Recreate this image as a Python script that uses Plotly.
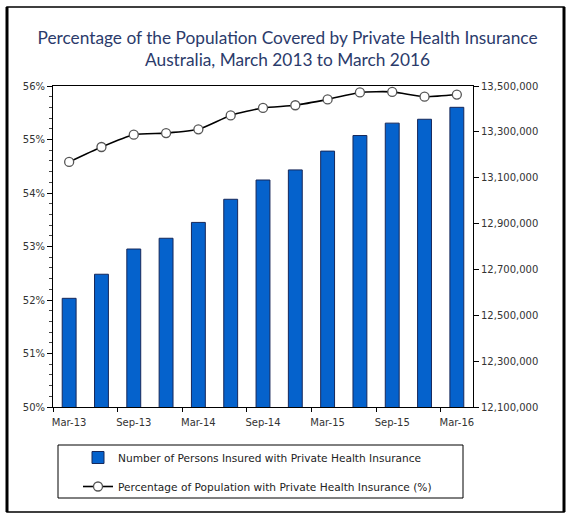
import plotly.graph_objects as go

# quarterly data, Mar-13 .. Mar-16
quarters = ["Mar-13", "Jun-13", "Sep-13", "Dec-13", "Mar-14", "Jun-14", "Sep-14",
            "Dec-14", "Mar-15", "Jun-15", "Sep-15", "Dec-15", "Mar-16"]
persons_insured = [12574000, 12679000, 12789000, 12836000, 12905000, 13006000, 13090000,
                   13134000, 13216000, 13284000, 13338000, 13355000, 13407000]
pct_population = [54.58, 54.86, 55.09, 55.12, 55.19, 55.45, 55.59,
                  55.64, 55.75, 55.88, 55.89, 55.80, 55.84]

title_txt = ("Percentage of the Population Covered by Private Health Insurance<br>"
             "Australia, March 2013 to March 2016")
bar_name = "Number of Persons Insured with Private Health Insurance"
line_name = "Percentage of Population with Private Health Insurance (%)"

W, H = 575, 522
L, R, T, B = 53, 473, 86, 407   # plot area in px


def px_x(v):
    return (v - L) / (R - L)


def px_y(v):
    return (B - v) / (B - T)


fig = go.Figure()
fig.add_trace(go.Bar(x=quarters, y=persons_insured, name=bar_name, yaxis="y",
                     legendgroup="bars",
                     marker=dict(color="#0562CC", line=dict(color="#17285A", width=1))))
fig.add_trace(go.Scatter(x=quarters, y=pct_population, name=line_name, yaxis="y2",
                         legendgroup="pct", mode="lines+markers",
                         line=dict(color="black", width=1.6, shape="spline", smoothing=0.6),
                         marker=dict(symbol="circle", size=9, color="white",
                                     line=dict(color="#555555", width=1.3))))

tickfont = dict(family="DejaVu Sans", size=10, color="#333333")

fig.update_layout(
    width=W, height=H,
    margin=dict(l=L, r=W - R, t=T, b=H - B, autoexpand=False),
    paper_bgcolor="white", plot_bgcolor="white",
    title=dict(text=title_txt, x=0.5, xref="container", y=1 - 44 / H, yref="container",
               yanchor="top", xanchor="center",
               font=dict(family="Lato", size=17.3, color="#2B3B6B")),
    bargap=0.57,
    showlegend=True,
    legend=dict(x=px_x(78), y=px_y(443), xanchor="left", yanchor="top",
                traceorder="grouped", tracegroupgap=10,
                bgcolor="rgba(0,0,0,0)", borderwidth=0,
                font=dict(family="DejaVu Sans", size=10.6, color="#222222")),
    xaxis=dict(type="category", range=[-0.5, len(quarters) - 0.5], dtick=2, tickangle=0,
               tickson="boundaries", ticks="outside", ticklen=4, tickcolor="black",
               ticklabelstandoff=6,
               showline=True, linecolor="black", linewidth=1, mirror=True,
               showgrid=False, tickfont=tickfont),
    yaxis=dict(side="right", range=[12100000, 13500000], tick0=12100000, dtick=200000,
               tickformat=",", ticks="outside", ticklen=5, tickcolor="black",
               showline=True, linecolor="black", linewidth=1,
               showgrid=False, zeroline=False, tickfont=tickfont),
    yaxis2=dict(side="left", overlaying="y", range=[50, 56], dtick=1, ticksuffix="%",
                ticks="outside", ticklen=5, tickcolor="black",
                minor=dict(dtick=0.2, ticks="outside", ticklen=3, tickcolor="#444444"),
                showline=True, linecolor="black", linewidth=1,
                showgrid=False, zeroline=False, tickfont=tickfont),
)

# legend box
fig.add_shape(type="rect", xref="paper", yref="paper",
              x0=px_x(58), x1=px_x(463), y0=px_y(498), y1=px_y(445),
              line=dict(color="black", width=1))
# outer frame
fig.add_shape(type="rect", xref="paper", yref="paper",
              x0=px_x(7), x1=px_x(564), y0=px_y(512), y1=px_y(7),
              line=dict(color="black", width=1.5))
for xv in (7, 564):
    fig.add_shape(type="line", xref="paper", yref="paper",
                  x0=px_x(xv), x1=px_x(xv), y0=px_y(512), y1=px_y(7),
                  line=dict(color="black", width=3))

# page has a default body margin; drop it so the figure sits at 0,0
fig.write_html("out.html", config={"displayModeBar": False},
               post_script="document.body.style.margin='0';")
